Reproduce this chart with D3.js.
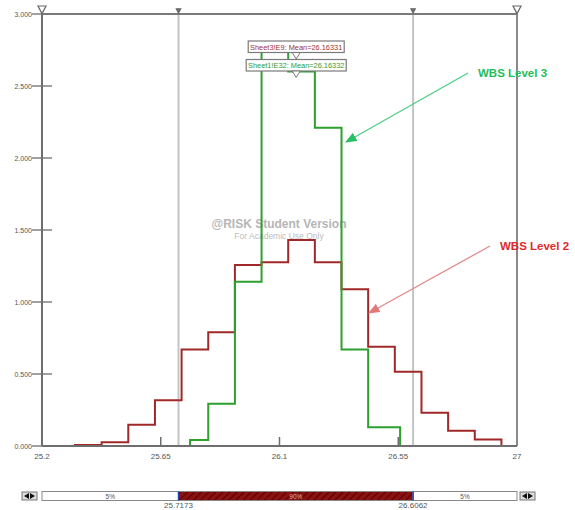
<!DOCTYPE html>
<html><head><meta charset="utf-8">
<script src="https://cdn.jsdelivr.net/npm/d3@7"></script>
<style>body{margin:0;background:#fff}svg{display:block;font-family:Arial,"Liberation Sans",sans-serif}</style>
</head><body><svg id="c" width="575" height="510"></svg>
<script>
// ---- data ----
const xTicks = [25.2, 25.65, 26.1, 26.55, 27];
const xTickLabels = ["25.2", "25.65", "26.1", "26.55", "27"];
const yTicks = [0, 0.5, 1, 1.5, 2, 2.5, 3];
const yTickLabels = ["0.000", "0.500", "1.000", "1.500", "2.000", "2.500", "3.000"];
const level2Edges = [25.325, 25.426, 25.527, 25.628, 25.729, 25.830, 25.931, 26.032, 26.133, 26.234, 26.335, 26.436, 26.537, 26.638, 26.739, 26.840, 26.941];
const level2Values = [0.007, 0.026, 0.148, 0.317, 0.671, 0.79, 1.257, 1.276, 1.43, 1.276, 1.088, 0.69, 0.515, 0.231, 0.106, 0.046];
const level3Edges = [25.761, 25.830, 25.931, 26.032, 26.133, 26.234, 26.335, 26.436, 26.557];
const level3Values = [0.042, 0.294, 1.14, 2.78, 2.60, 2.21, 0.671, 0.13];
const pLow = 25.7173, pHigh = 26.6062;
const bandLabels = ["5%", "90%", "5%"];
const mean2 = 26.16331, mean3 = 26.16332;
const meanLabels = ["Sheet3!E9: Mean=26.16331", "Sheet1!E32: Mean=26.16332"];

// ---- layout ----
const svg = d3.select("#c");
const L = 42, R = 517, T = 14, B = 446;
const x = d3.scaleLinear().domain([25.2, 27]).range([L, R]);
const y = d3.scaleLinear().domain([0, 3]).range([B, T]);
const RED = "#a02828", GREEN = "#2ea02e";

// defs
const defs = svg.append("defs");
const pat = defs.append("pattern").attr("id", "hatch").attr("patternUnits", "userSpaceOnUse")
  .attr("width", 5).attr("height", 5).attr("patternTransform", "rotate(45)");
pat.append("rect").attr("width", 5).attr("height", 5).attr("fill", "#8c1010");
pat.append("line").attr("x1", 0).attr("y1", 0).attr("x2", 0).attr("y2", 5).attr("stroke", "#3a0000").attr("stroke-width", 1.6);
function marker(id, col) {
  defs.append("marker").attr("id", id).attr("viewBox", "0 0 10 10").attr("refX", 9).attr("refY", 5)
    .attr("markerWidth", 9).attr("markerHeight", 9).attr("orient", "auto-start-reverse")
    .append("path").attr("d", "M0,1 L10,5 L0,9 Z").attr("fill", col);
}
marker("ag", "#2bbf63"); marker("ar", "#e07a7a");

// percentile lines
[pLow, pHigh].forEach(v => {
  svg.append("line").attr("x1", x(v)).attr("x2", x(v)).attr("y1", T).attr("y2", B)
    .attr("stroke", "#c4c4c4").attr("stroke-width", 2);
});

// frame
svg.append("line").attr("x1", L).attr("x2", R).attr("y1", T).attr("y2", T).attr("stroke", "#7a7a7a").attr("stroke-width", 2);
svg.append("line").attr("x1", R).attr("x2", R).attr("y1", T).attr("y2", B).attr("stroke", "#8a8a8a").attr("stroke-width", 2);

// watermark
svg.append("text").attr("x", 279).attr("y", 228).attr("text-anchor", "middle").attr("font-size", 12).attr("font-weight", "bold")
  .attr("fill", "#b6b6b6").text("@RISK Student Version");
svg.append("text").attr("x", 279).attr("y", 239).attr("text-anchor", "middle").attr("font-size", 8.5)
  .attr("fill", "#bdbdbd").text("For Academic Use Only");

// step histograms
function stepPath(edges, vals) {
  const pts = [[edges[0], 0]];
  vals.forEach((v, i) => { pts.push([edges[i], v]); pts.push([edges[i + 1], v]); });
  pts.push([edges[edges.length - 1], 0]);
  return d3.line().x(d => x(d[0])).y(d => y(d[1]))(pts);
}
svg.append("path").attr("d", stepPath(level2Edges, level2Values)).attr("fill", "none").attr("stroke", RED).attr("stroke-width", 2);
svg.append("path").attr("d", stepPath(level3Edges, level3Values)).attr("fill", "none").attr("stroke", GREEN).attr("stroke-width", 2);

// axes
const yAx = svg.append("g");
yAx.append("line").attr("x1", L).attr("x2", L).attr("y1", T).attr("y2", B).attr("stroke", "#6e6e6e").attr("stroke-width", 2);
yTicks.forEach((t, i) => {
  yAx.append("line").attr("x1", L - 10).attr("x2", t === 3 ? L : L + 10).attr("y1", y(t)).attr("y2", y(t)).attr("stroke", "#6e6e6e").attr("stroke-width", 1.3);
  yAx.append("text").attr("x", L - 10).attr("y", y(t) + 2.5).attr("text-anchor", "end").attr("font-size", 7).attr("fill", "#555").text(yTickLabels[i]);
});
const xAx = svg.append("g");
xAx.append("line").attr("x1", L).attr("x2", R).attr("y1", B).attr("y2", B).attr("stroke", "#6e6e6e").attr("stroke-width", 2);
xTicks.forEach((t, i) => {
  if (i > 0 && i < xTicks.length - 1)
    xAx.append("line").attr("x1", x(t)).attr("x2", x(t)).attr("y1", B - 9).attr("y2", B + 1).attr("stroke", "#6e6e6e").attr("stroke-width", 1.5);
  xAx.append("text").attr("x", x(t)).attr("y", 459).attr("text-anchor", "middle").attr("font-size", 8).attr("fill", "#555").text(xTickLabels[i]);
});

// top triangles
function tri(cx, cy, s, filled) {
  svg.append("path").attr("d", `M${cx - s},${cy - s} L${cx + s},${cy - s} L${cx},${cy + s * 0.9} Z`)
    .attr("fill", filled ? "#777" : "#fff").attr("stroke", "#666").attr("stroke-width", 1.2);
}
tri(L, 10, 4, false); tri(R, 10, 4, false);
tri(x(pLow), 11, 2.2, true); tri(x(pHigh), 11, 2.2, true);

// mean labels
function meanBox(label, col, by, mv, w) {
  svg.append("rect").attr("x", x(mv) - w / 2).attr("y", by).attr("width", w).attr("height", 11.5)
    .attr("fill", "#fff").attr("stroke", "#7a7a7a").attr("stroke-width", 1.2);
  svg.append("text").attr("x", x(mv)).attr("y", by + 8.5).attr("text-anchor", "middle").attr("font-size", 7.4).attr("fill", col).text(label);
  svg.append("path").attr("d", `M${x(mv) - 4},${by + 11.5} L${x(mv) + 4},${by + 11.5} L${x(mv)},${by + 18} Z`)
    .attr("fill", "#fff").attr("stroke", "#777").attr("stroke-width", 1);
}
meanBox(meanLabels[0], "#a03030", 41, mean2, 96);
meanBox(meanLabels[1], "#2e9a2e", 59.5, mean3, 100);

// annotations
svg.append("line").attr("x1", 468).attr("y1", 73).attr("x2", 346).attr("y2", 142)
  .attr("stroke", "#4cce84").attr("stroke-width", 1.3).attr("marker-end", "url(#ag)");
svg.append("text").attr("x", 478).attr("y", 77).attr("font-size", 11.5).attr("font-weight", "bold").attr("fill", "#1ebd5a").text("WBS Level 3");
svg.append("line").attr("x1", 490).attr("y1", 246).attr("x2", 369).attr("y2", 313)
  .attr("stroke", "#e38a8a").attr("stroke-width", 1.3).attr("marker-end", "url(#ar)");
svg.append("text").attr("x", 500).attr("y", 250).attr("font-size", 11.5).attr("font-weight", "bold").attr("fill", "#e02a2a").text("WBS Level 2");

// bottom percentile bar
const bY = 491.5, bH = 9;
svg.append("rect").attr("x", L).attr("y", bY).attr("width", x(pLow) - L).attr("height", bH).attr("fill", "#fff").attr("stroke", "#888").attr("stroke-width", 1);
svg.append("rect").attr("x", x(pLow)).attr("y", bY).attr("width", x(pHigh) - x(pLow)).attr("height", bH).attr("fill", "url(#hatch)").attr("stroke", "#888").attr("stroke-width", 1);
svg.append("rect").attr("x", x(pHigh)).attr("y", bY).attr("width", R - x(pHigh)).attr("height", bH).attr("fill", "#fff").attr("stroke", "#888").attr("stroke-width", 1);
[pLow, pHigh].forEach(v => svg.append("line").attr("x1", x(v)).attr("x2", x(v)).attr("y1", bY).attr("y2", bY + bH).attr("stroke", "#2244aa").attr("stroke-width", 1.5));
const mids = [(L + x(pLow)) / 2, (x(pLow) + x(pHigh)) / 2, (x(pHigh) + R) / 2];
bandLabels.forEach((t, i) => svg.append("text").attr("x", mids[i]).attr("y", bY + 7).attr("text-anchor", "middle").attr("font-size", 6.5)
  .attr("fill", i === 1 ? "#d8b0b0" : "#555").text(t));
[pLow, pHigh].forEach(v => svg.append("text").attr("x", x(v)).attr("y", 508).attr("text-anchor", "middle").attr("font-size", 8).attr("fill", "#555").text(v.toFixed(4)));
// arrow buttons
function btn(bx) {
  svg.append("rect").attr("x", bx).attr("y", 492).attr("width", 15).attr("height", 8).attr("fill", "#ddd").attr("stroke", "#777").attr("stroke-width", 1);
  svg.append("path").attr("d", `M${bx + 7},${493} L${bx + 2},${496} L${bx + 7},${499} Z M${bx + 8},${493} L${bx + 13},${496} L${bx + 8},${499} Z`).attr("fill", "#111");
}
btn(22); btn(520);
</script></body></html>
